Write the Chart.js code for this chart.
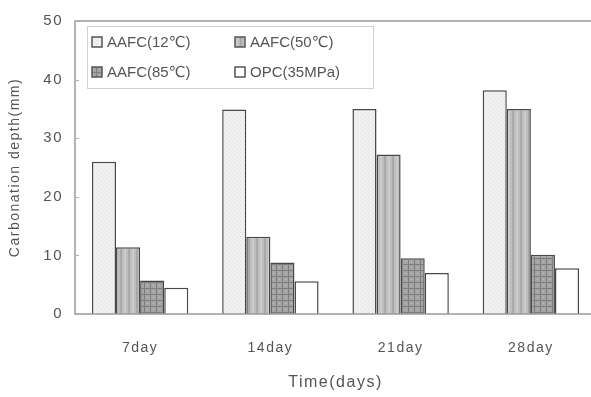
<!DOCTYPE html>
<html>
<head>
<meta charset="utf-8">
<script src="https://cdn.jsdelivr.net/npm/chart.js@4.4.1/dist/chart.umd.min.js"></script>
<style>
  html, body { margin: 0; padding: 0; background: #fff; overflow: hidden; }
  #wrap { width: 596px; height: 397px; }
</style>
</head>
<body>
<div id="wrap"><canvas id="carbChart" width="596" height="397"></canvas></div>
<script>
// data
const days = ['7day', '14day', '21day', '28day'];
const aafc12 = [26, 34.9, 35, 38.2];
const aafc50 = [11.4, 13.2, 27.2, 35];
const aafc85 = [5.7, 8.8, 9.5, 10.1];
const opc35 = [4.5, 5.6, 7.0, 7.8];
const yTicks = [0, 10, 20, 30, 40, 50];

const FONT = "'Liberation Sans', 'DejaVu Sans', sans-serif";

// small fill patterns like the old excel print
function makePattern(w, h, draw) {
    const c = document.createElement('canvas');
    c.width = w; c.height = h;
    const g = c.getContext('2d');
    draw(g);
    return document.getElementById('carbChart').getContext('2d').createPattern(c, 'repeat');
}
const dotsLight = makePattern(4, 4, g => {
    g.fillStyle = '#f1f1f1'; g.fillRect(0, 0, 4, 4);
    g.fillStyle = '#dcdcdc'; g.fillRect(0, 0, 1, 1); g.fillRect(2, 2, 1, 1);
});
const stripes = makePattern(8, 4, g => {
    g.fillStyle = '#bdbdbd'; g.fillRect(0, 0, 8, 4);
    g.fillStyle = '#a9a9a9'; g.fillRect(0, 0, 2, 4);
    g.fillStyle = '#cbcbcb'; g.fillRect(4, 0, 2, 4);
});
const cross = makePattern(6, 6, g => {
    g.fillStyle = '#a4a4a4'; g.fillRect(0, 0, 6, 6);
    g.fillStyle = '#7e7e7e'; g.fillRect(0, 0, 6, 1); g.fillRect(0, 0, 1, 6);
    g.fillStyle = '#c2c2c2'; g.fillRect(3, 3, 1, 1);
});

// axis texts in the scan are spaced out a bit
const spacing = {
    id: 'spacing',
    beforeDraw(chart) { chart.ctx.letterSpacing = '1.5px'; }
};

const frame = {
    id: 'frame',
    afterDatasetsDraw(chart) {
        const {ctx, chartArea: a} = chart;
        const y = chart.scales.y;
        ctx.save();
        ctx.strokeStyle = '#9a9a9a';
        ctx.lineWidth = 1.5;
        ctx.strokeRect(a.left, a.top, a.right - a.left + 5, a.bottom - a.top);
        ctx.lineWidth = 1;
        ctx.strokeStyle = '#b0b0b0';
        y.ticks.forEach(t => {
            const py = Math.round(y.getPixelForValue(t.value)) + 0.5;
            ctx.beginPath(); ctx.moveTo(a.left, py); ctx.lineTo(a.left + 4, py); ctx.stroke();
        });
        ctx.restore();
    }
};

const insideLegend = {
    id: 'insideLegend',
    afterDraw(chart) {
        const {ctx, chartArea: a} = chart;
        const bx = a.left + 12, by = a.top + 5;
        ctx.save();
        ctx.letterSpacing = '0px';
        ctx.fillStyle = '#fff';
        ctx.fillRect(bx, by, 286, 62);
        ctx.strokeStyle = '#d0d0d0';
        ctx.lineWidth = 1;
        ctx.strokeRect(bx + 0.5, by + 0.5, 286, 62);
        const cols = [bx + 5, bx + 148];
        const rows = [by + 16, by + 46];
        ctx.font = '15px ' + FONT;
        ctx.textBaseline = 'middle';
        chart.data.datasets.forEach((ds, i) => {
            const x = cols[i % 2], yy = rows[Math.floor(i / 2)];
            ctx.fillStyle = ds.backgroundColor;
            ctx.fillRect(x, yy - 5, 10, 10);
            ctx.strokeStyle = '#555';
            ctx.lineWidth = 1.5;
            ctx.strokeRect(x, yy - 5, 10, 10);
            ctx.fillStyle = '#555';
            ctx.fillText(ds.label, x + 15, yy + 1);
        });
        ctx.restore();
    }
};

const ctx = document.getElementById('carbChart').getContext('2d');
const carbChart = new Chart(ctx, {
    type: 'bar',
    data: {
        labels: days,
        datasets: [
            {label: 'AAFC(12℃)', data: aafc12, backgroundColor: dotsLight},
            {label: 'AAFC(50℃)', data: aafc50, backgroundColor: stripes},
            {label: 'AAFC(85℃)', data: aafc85, backgroundColor: cross},
            {label: 'OPC(35MPa)', data: opc35, backgroundColor: '#ffffff'}
        ]
    },
    options: {
        responsive: false,
        animation: false,
        layout: {padding: {top: 12, right: 0, bottom: 5, left: 0}},
        datasets: {
            bar: {
                borderColor: '#484848',
                borderWidth: 1.5,
                categoryPercentage: 0.74,
                barPercentage: 1
            }
        },
        scales: {
            x: {
                grid: {display: false, drawTicks: false},
                border: {display: false},
                ticks: {color: '#555', font: {size: 14, family: FONT}, padding: 26},
                title: {display: true, text: 'Time(days)', color: '#555',
                    font: {size: 16, family: FONT}, padding: {top: 0, bottom: 0}},
                afterFit(scale) { scale.height = 78; }
            },
            y: {
                min: 0, max: 50,
                afterBuildTicks(scale) { scale.ticks = yTicks.map(v => ({value: v})); },
                grid: {display: false, drawTicks: false},
                border: {display: false},
                ticks: {color: '#555', font: {size: 15, family: FONT}, padding: 12},
                title: {display: true, text: 'Carbonation depth(mm)', color: '#555',
                    font: {size: 14, family: FONT}, padding: {top: 7, bottom: 0}},
                afterFit(scale) { scale.width = 75; }
            }
        },
        plugins: {
            legend: {display: false},
            tooltip: {enabled: false}
        }
    },
    plugins: [spacing, frame, insideLegend]
});
</script>
</body>
</html>
